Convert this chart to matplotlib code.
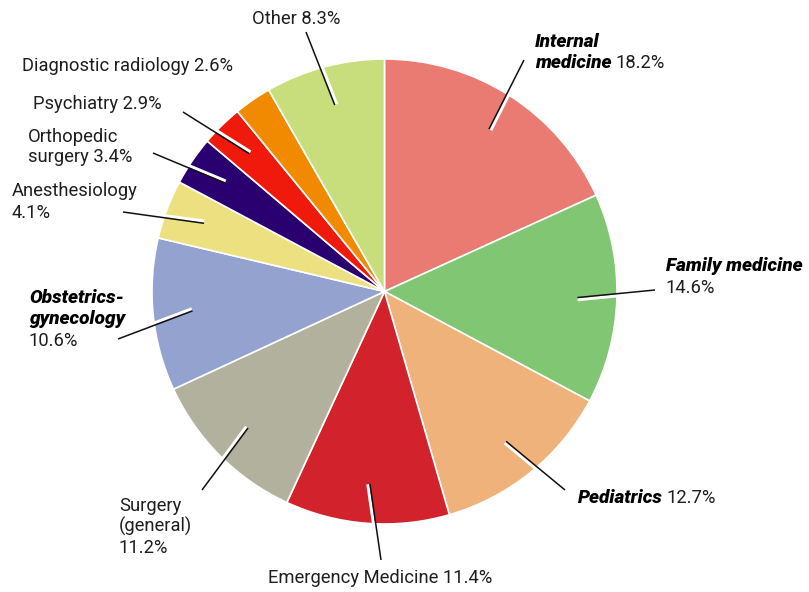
import numpy as np
import matplotlib

matplotlib.use("Agg")

import matplotlib.pyplot as plt

# share of residents by specialty (%), clockwise from 12 o'clock
SPECIALTIES = [
    "Internal medicine",
    "Family medicine",
    "Pediatrics",
    "Emergency Medicine",
    "Surgery (general)",
    "Obstetrics-gynecology",
    "Anesthesiology",
    "Orthopedic surgery",
    "Psychiatry",
    "Diagnostic radiology",
    "Other",
]
SHARES = [18.2, 14.6, 12.7, 11.4, 11.2, 10.6, 4.1, 3.4, 2.9, 2.6, 8.3]
COLORS = [
    "#ea7b73", "#80c673", "#efb27b", "#d2232c", "#b2b19d", "#94a2cf",
    "#ede080", "#2a0070", "#ef1a0b", "#f28a00", "#c8de7d",
]

# outer end of each leader line in pixels (None = no leader) -- layout only
LEADER_ENDS = [
    (524, 60), (655, 290), (565, 490), (381, 560), (202, 490), (118, 339),
    (123, 212), (153, 153), (183, 112), None, (306, 32),
]

# label lines: (x px, baseline y px, [(text, bold)]) -- layout only
LABEL_LINES = [
    (535, 47, [("Internal", True)]),
    (535, 68, [("medicine", True), ("18.2%", False)]),
    (666, 271, [("Family medicine", True)]),
    (666, 293, [("14.6%", False)]),
    (578, 503, [("Pediatrics", True), ("12.7%", False)]),
    (268, 583, [("Emergency Medicine 11.4%", False)]),
    (119, 511, [("Surgery", False)]),
    (119, 532, [("(general)", False)]),
    (119, 553, [("11.2%", False)]),
    (29, 303, [("Obstetrics-", True)]),
    (29, 324, [("gynecology", True)]),
    (29, 346, [("10.6%", False)]),
    (12, 196, [("Anesthesiology", False)]),
    (12, 218, [("4.1%", False)]),
    (28, 142, [("Orthopedic", False)]),
    (28, 162, [("surgery 3.4%", False)]),
    (33, 109, [("Psychiatry 2.9%", False)]),
    (22, 71, [("Diagnostic radiology 2.6%", False)]),
    (252, 24, [("Other 8.3%", False)]),
]

W, H = 809, 592
CENTER = np.array([384.5, 291.5])
RADIUS = 232.5
FONT = "Roboto"
FS = 13.2
FS_BOLD = 13.7

fig = plt.figure(figsize=(W / 100, H / 100), dpi=100)
ax = fig.add_axes([0, 0, 1, 1])

# y axis inverted so data coords are pixel coords -> counterclock=True draws clockwise on screen
wedges, _ = ax.pie(
    SHARES,
    colors=COLORS,
    startangle=-90,
    counterclock=True,
    center=tuple(CENTER),
    radius=RADIUS,
    wedgeprops=dict(edgecolor="white", linewidth=1.2),
)
ax.set_xlim(0, W)
ax.set_ylim(H, 0)
ax.set_aspect("equal")
ax.axis("off")

# leader lines: start inside the wedge at its mid angle, white stripe while inside the pie
for wedge, end in zip(wedges, LEADER_ENDS):
    if end is None:
        continue
    mid = np.deg2rad((wedge.theta1 + wedge.theta2) / 2)
    start = CENTER + 0.83 * RADIUS * np.array([np.cos(mid), np.sin(mid)])
    end = np.array(end, dtype=float)
    d = end - start
    # where the line leaves the circle
    f = start - CENTER
    a, b, c = d @ d, 2 * f @ d, f @ f - RADIUS ** 2
    t_exit = (-b + np.sqrt(b * b - 4 * a * c)) / (2 * a)
    rim = start + t_exit * d
    u = d / np.linalg.norm(d)
    perp = np.array([-u[1], u[0]]) * 2.2
    ax.plot([start[0] + perp[0], rim[0] + perp[0]], [start[1] + perp[1], rim[1] + perp[1]],
            color="white", linewidth=2.2, solid_capstyle="butt")
    ax.plot([start[0], end[0]], [start[1], end[1]],
            color="#111111", linewidth=1.1, solid_capstyle="butt")

renderer = fig.canvas.get_renderer()
space = 4
for x, y, runs in LABEL_LINES:
    cur = x
    for text, bold in runs:
        t = ax.text(
            cur, y, text,
            fontsize=FS_BOLD if bold else FS,
            family=FONT,
            fontweight=900 if bold else "normal",
            fontstyle="italic" if bold else "normal",
            color="black" if bold else "#1e1e1e",
            ha="left", va="baseline",
        )
        bb = t.get_window_extent(renderer=renderer)
        cur = bb.x1 + space

fig.savefig("out.png", dpi=100)
